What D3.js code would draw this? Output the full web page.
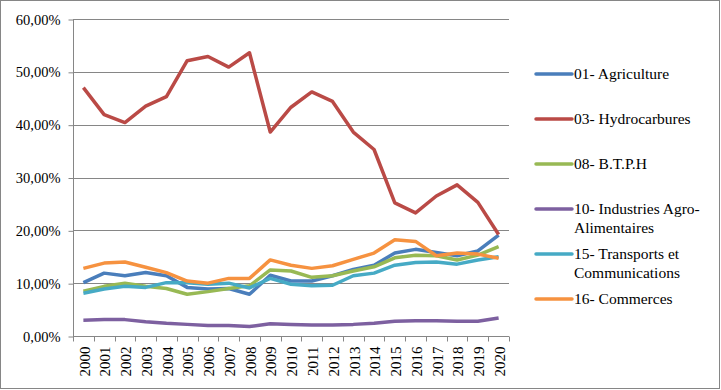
<!DOCTYPE html>
<meta charset="utf-8">
<style>
body { margin: 0; background: #fff; }
text { font-family: "Liberation Serif", "Times New Roman", serif; fill: #000; }
</style>
<body>
<script src="https://cdn.jsdelivr.net/npm/d3@7"></script>
<script>

var years = d3.range(2000, 2021).map(String);

var agriculture   = [10.1, 11.9, 11.4, 12.0, 11.4, 9.2, 8.9, 9.0, 7.9, 11.5, 10.4, 10.4, 11.4, 12.6, 13.4, 15.7, 16.4, 15.8, 15.2, 16.1, 19.1];
var hydrocarbures = [47.0, 41.9, 40.4, 43.5, 45.3, 52.1, 52.9, 50.9, 53.6, 38.6, 43.3, 46.2, 44.4, 38.6, 35.3, 25.2, 23.3, 26.5, 28.6, 25.3, 19.2];
var btph          = [8.5, 9.4, 10.0, 9.4, 9.0, 7.9, 8.4, 9.0, 9.5, 12.5, 12.3, 11.1, 11.4, 12.3, 13.1, 14.8, 15.3, 15.2, 14.4, 15.3, 16.9];
var industries    = [3.0, 3.1, 3.1, 2.7, 2.4, 2.2, 2.0, 2.0, 1.8, 2.3, 2.2, 2.1, 2.1, 2.2, 2.4, 2.8, 2.9, 2.9, 2.8, 2.8, 3.4];
var transports    = [8.1, 8.9, 9.4, 9.2, 10.1, 10.1, 9.8, 10.0, 9.1, 10.9, 9.8, 9.5, 9.6, 11.4, 11.9, 13.4, 13.9, 14.0, 13.6, 14.4, 15.0];
var commerces     = [12.8, 13.8, 14.0, 13.0, 12.0, 10.4, 10.0, 10.9, 10.9, 14.4, 13.4, 12.8, 13.3, 14.5, 15.7, 18.2, 17.9, 15.2, 15.7, 15.5, 14.7];

var seriesNames = ["01- Agriculture", "03- Hydrocarbures", "08- B.T.P.H", "10- Industries Agro-|Alimentaires", "15- Transports et|Communications", "16- Commerces"];
var seriesValues = [agriculture, hydrocarbures, btph, industries, transports, commerces];
var colors = ["#4A7EBB", "#BA4A46", "#98B954", "#7D60A0", "#46AAC5", "#F69240"];
var yTicks = [0, 10, 20, 30, 40, 50, 60];

var w = 721, h = 390;

var svg = d3.select("body").append("svg")
    .attr("width", w)
    .attr("height", h);

svg.append("rect")
    .attr("x", 0.5).attr("y", 0.5)
    .attr("width", w - 2).attr("height", h - 2)
    .attr("fill", "#fff")
    .attr("stroke", "#868686");

var plotLeft = 73, plotRight = 509, plotTop = 19, plotBottom = 336;

var x = d3.scaleBand().domain(years).range([plotLeft, plotRight]);
var y = d3.scaleLinear().domain([0, 60]).range([plotBottom, plotTop]);

// gridlines
svg.append("g").selectAll("line")
    .data(yTicks.slice(1))
  .enter().append("line")
    .attr("x1", plotLeft).attr("x2", plotRight)
    .attr("y1", function(d) { return Math.round(y(d)) + 0.5; })
    .attr("y2", function(d) { return Math.round(y(d)) + 0.5; })
    .attr("stroke", "#868686");

// y axis
var yAxis = svg.append("g")
    .attr("transform", "translate(" + (plotLeft + 0.5) + ",0.5)")
    .call(d3.axisLeft(y).tickValues(yTicks).tickSize(5).tickPadding(8)
      .tickFormat(function(d) { return d3.format(".2f")(d).replace(".", ",") + "%"; }));
yAxis.selectAll("path, line").attr("stroke", "#868686");
yAxis.select(".domain").attr("d", "M0," + plotTop + "V" + plotBottom);
yAxis.selectAll("text").style("font-size", "14.5px");

// x axis
var xAxis = svg.append("g")
    .attr("transform", "translate(0," + (plotBottom + 0.5) + ")")
    .call(d3.axisBottom(x).tickSize(0).tickPadding(0));
xAxis.select(".domain").attr("stroke", "#868686").attr("d", "M" + plotLeft + ",0H" + plotRight);
xAxis.selectAll(".tick line").remove();
xAxis.selectAll(".tick text")
    .style("font-size", "15px")
    .attr("text-anchor", "end")
    .attr("y", 0)
    .attr("dy", "0.35em")
    .attr("transform", "translate(1,10) rotate(-90)");
xAxis.append("g").selectAll("line")
    .data(d3.range(years.length + 1))
  .enter().append("line")
    .attr("x1", function(i) { return Math.round(plotLeft + i * x.bandwidth()) + 0.5; })
    .attr("x2", function(i) { return Math.round(plotLeft + i * x.bandwidth()) + 0.5; })
    .attr("y1", 0).attr("y2", 5)
    .attr("stroke", "#868686");

// lines
var line = d3.line()
    .x(function(d, i) { return x(years[i]) + x.bandwidth() / 2; })
    .y(function(d) { return y(d); });

svg.append("g").selectAll("path")
    .data(seriesValues)
  .enter().append("path")
    .attr("d", line)
    .attr("fill", "none")
    .attr("stroke", function(d, i) { return colors[i]; })
    .attr("stroke-width", 3.5)
    .attr("stroke-linejoin", "round");

// legend
var legendY = [74, 119, 164, 209, 254, 299];
var legend = svg.append("g").selectAll("g")
    .data(seriesNames)
  .enter().append("g")
    .attr("transform", function(d, i) { return "translate(536," + legendY[i] + ")"; });

legend.append("line")
    .attr("x1", 0).attr("x2", 36)
    .attr("stroke", function(d, i) { return colors[i]; })
    .attr("stroke-width", 3.5)
    .attr("stroke-linecap", "round");

legend.append("text")
    .style("font-size", "15.5px")
    .selectAll("tspan")
    .data(function(d) { return d.split("|"); })
  .enter().append("tspan")
    .attr("x", 38)
    .attr("dy", function(d, i) { return i ? "1.2em" : "0.35em"; })
    .text(function(d) { return d; });

</script>
